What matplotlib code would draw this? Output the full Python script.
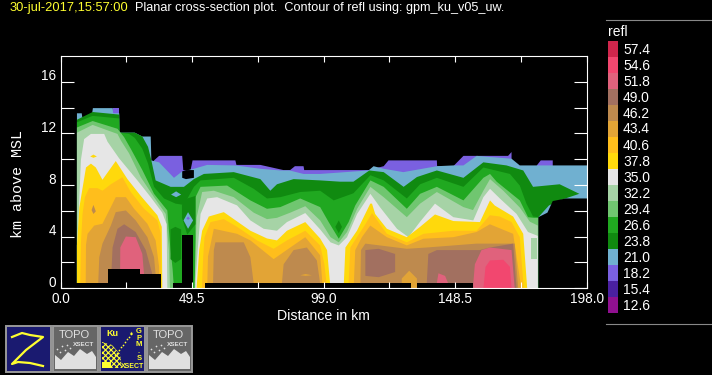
import matplotlib
matplotlib.use('Agg')
import matplotlib.pyplot as plt
from matplotlib.patches import Rectangle, Polygon
from matplotlib.colors import ListedColormap
from matplotlib.transforms import ScaledTranslation
import numpy as np

W, H = 712, 375
title_time = "30-jul-2017,15:57:00"
title_main = "Planar cross-section plot.  Contour of refl using: gpm_ku_v05_uw."
legend_values = ["57.4","54.6","51.8","49.0","46.2","43.4","40.6","37.8","35.0","32.2","29.4","26.6","23.8","21.0","18.2","15.4","12.6"]
legend_colors = ["#D0264C","#F2476F","#E0627C","#A27060","#BE8A4E","#E2A436","#FFBE1C","#FFD90C","#E6E6E6","#A6D3A6","#70C670","#20A820","#108A10","#70B0D0","#7A60E0","#4A20A0","#901090"]
COL = dict(zip(legend_values, legend_colors))
x_major = [0.0, 49.5, 99.0, 148.5, 198.0]
x_minor = [24.75, 74.25, 123.75, 173.25]
y_ticks = [0, 2, 4, 6, 8, 10, 12, 14, 16]
y_labels = [0, 4, 8, 12, 16]

# Contour tops (distance km, height km) for each reflectivity band, painted low to high
top_182 = [([19.6,21.9],[14.0,14.0]),
 ([35,36.9,45.6,46,48.75,49.5,65.6,66,75,83.7,86.2,88,91.25,91.5,97.6,115.7,121.4,123.2,141.4,141.5,147.6,151.4,168.2,169.5],
  [9.95,10.3,10.3,9.2,9.2,9.95,9.95,9.6,9.6,9.2,9.2,9.5,9.5,9.2,9.2,9.2,9.5,9.95,9.95,9.5,9.5,10.3,10.3,10.6]),
 ([179,180.5,185],[9.56,9.95,9.95])]
top_210 = [([6,7.8,8,11.5,12,19.5,19.6,21.9,22,27.75,30.6,33.75,34,36.9,42.5,45.6,50,55,65.6,75,82.5,86,91.25,97.5,115.7,117.6,121.4,128.8,141.4,147.6,151.4,156.4,169.5,172.6,198],
  [13.6,13.6,13.3,13.3,14,14,13.6,13.6,12.1,12.1,11.8,11.8,9.95,9.8,8.6,9.1,9.3,9.6,9.56,9.3,9.17,9.17,8.9,8.9,9.17,9.5,9.3,9.04,9.5,9.56,9.56,10.3,10.08,9.56,9.56])]
top_238 = [([6,11.9,21.9,22,27.75,30.6,32.75,34,35.6,41.25,46.25,50,53.75,65,75,78.75,81.25,87.5,97.5,105,110,116,121.4,128.9,133.9,141.4,151.4,158.9,167.6,173.9,177.6,187.6,195],
  [13.1,13.7,13.5,12.1,12.1,11.8,11.0,9.95,8.4,7.9,7.9,8.5,8.9,9.04,8.5,7.6,8.1,8.5,8.4,8.3,8.3,9.17,9.04,7.9,8.66,9.17,8.6,9.8,9.56,9.17,7.9,8.1,7.36])]
under_wedge_x = [179.6,183.6,187.6,195,198]
under_wedge_z = [5.55,6.46,6.85,7.36,7.36]
top_266 = [([6,11.9,21.9,22,25.6,27.75,30.6,32.75,35,38.75,43.1,46.25,50,52.5,65,72.5,77.5,82.5,90,97.5,102.6,110,116.4,121.4,130.1,135.1,141.4,151.4,158.9,168.9,172.6,175.1,177.6,179.6],
  [12.9,13.4,13.2,12.1,12.0,11.7,10.85,9.7,7.9,7.0,6.6,6.5,7.9,8.4,8.6,7.75,7.0,7.1,7.5,7.6,6.85,7.4,8.8,8.4,7.0,8.1,8.6,7.9,9.4,8.9,8.0,6.6,5.6,5.55])]
top_294 = [([6,11.9,21.25,23.75,26.25,30.6,35,40,41,42,42.5],[12.5,13.0,12.4,11.75,10.85,9.2,7.36,6.07,3.5,1.5,0]),
 ([50.6,52.5,62.5,71.25,77.5,82.5,90,97.5,100.7,104.5,108.2,110.7,116.4,121.4,130.1,135.1,141.4,151.4,158.9,161.4,163.9,172.6,175.7,178,179.6],
  [7.1,7.9,8.0,6.85,6.2,6.33,7.0,6.33,5.17,3.88,5.17,6.46,8.4,7.9,6.2,7.36,7.9,6.85,8.6,8.9,8.3,6.85,5.55,5.5,5.5])]
top_322 = [([6,11.9,21.25,22.5,25.6,30,35,39.4,40.6,41],[12.1,12.7,12.0,11.5,10.5,8.65,7.1,5.8,3,0]),
 ([50.3,51,53.1,57.5,65,72.5,77.5,81.25,86.25,91.9,97.5,101.4,104.5,107.6,111.4,116.4,121.4,130.1,135.1,141.4,151.4,155,158.9,161.4,166.4,172.6,176.4,179.4],
  [0.5,5.5,7.5,7.6,7.1,5.9,5.4,5.5,5.9,6.4,5.3,4.0,3.6,4.4,6.2,7.9,7.1,5.55,6.6,7.5,6.33,6.1,7.6,8.5,7.6,6.3,5.2,4.9])]
top_350 = [([6,6.5,7.5,8.7,11.25,16.25,17.5,21.9,28.75,33.75,38.1,39.75,40],[3.4,5,10,11.6,12,12,11.4,10.1,8.4,7.1,5.9,5,0]),
 ([50.6,51.5,52.5,55,58.75,66.25,71.25,76.25,81.25,85,91.9,97.5,101.4,104.5,107.6,111.4,116.4,120.1,126.4,130.7,135.1,140.7,147.6,155.1,158.9,161.4,165.1,171.4,175.7,179.4],
  [0.5,3.2,5.8,7.0,7.1,6.46,5.3,4.65,4.5,5.17,5.87,4.6,3.6,3.36,4.0,5.8,7.36,6.3,4.65,4.0,5.2,6.6,5.55,5.3,7.1,7.75,7.0,5.8,4.4,4.1])]
top_378 = [([6,6.9,9.4,11.25,13.1,15.6,20.6,25,30,36.25,37.9,38.1],[3.36,6.3,9.4,9.7,9.4,8.45,9.9,8.5,7.2,5.7,4.8,0.4]),
 ([51,52,53.1,55.6,61.25,65,71.25,77.5,81.25,85,91.9,97.5,100.1,101.4],[0,3,4.5,5.6,5.94,5.4,4.5,3.9,3.75,4.5,5.17,3.9,3,0]),
 ([106.4,107,108.85,111.35,116.35,117,118.2,122.6,130.1,135.1,140.7,147.6,157.6,161.4,163.2,170.1,173.9,175.4],
  [0.4,3.2,3.75,4.5,6.6,6.6,5.8,4.65,4.0,4.8,5.76,5.25,5.17,6.85,6.45,5.6,4.26,0])]
top_406 = [([7.25,7.5,8.1,9,10.6,13.75,15.6,18.75,23.1,26.25,31.25,36.25,37.5,37.6],[0.4,3.5,5.8,7.1,7.8,7.8,7.6,8.1,8.65,7.5,6.2,5.3,4.3,0.4]),
 ([53,53.5,54,56.25,61.25,66.25,73.75,80,85,91.9,97.5,99.1,99.9],[0,2.5,4,5.17,5.4,4.8,3.75,3.1,3.75,4.5,3.36,1.9,0.4]),
 ([108.2,108.85,111.35,114.5,117,122.6,130.1,136.35,147.6,156.35,161.35,165.1,169.5,172.6,174.1],
  [0.4,3.2,4.0,5.0,5.87,4.26,3.6,4.26,4.5,4.5,5.7,5.6,5.17,4.0,0])]
top_434 = [([9.3,9.4,10,12.5,15.6,18.75,20.6,24.4,27.5,32.5,35.6,36.9,37],[0.4,3.4,4.26,4.9,5.04,6.33,7.1,7.1,6.2,5.04,3.75,1.7,0.4]),
 ([55,55.3,57.5,66.25,71.25,80,86.25,91.9,97.5,98.35],[0,2.5,4.65,4.26,3.75,2.3,3.2,4,2.6,0.4]),
 ([110.1,110.7,113.2,116.35,122.6,130.1,136.35,147.6,156.35,161.35,170.1,173.2],[0,3,4,4.9,4,3.36,3.88,4,4.4,5,4.26,0])]
top_462 = [([14,14.4,15.6,18.75,20.6,24.4,28.1,32.5,35,35.6],[0.4,2.45,3.5,4.9,5.94,6.07,5.3,4,2.45,1.1]),
 ([57.2,57.5,58.1,68.75,71.25,72.5],[0.4,3,3.6,3.6,2.45,0.4]),
 ([83.1,83.75,87.5,92.5,96.25,97.5],[0.4,1.9,3,3.2,2.2,0.4]),
 ([112.6,112.85,114.5,130.1,137.6,156.35,170.7,172],[0,3,3.5,3.1,3.2,3.5,3.5,0])]
top_490 = [([19,19.4,21.25,23.75,28.1,31.9,34.4],[1.4,3.2,4.65,5,4.4,3,1.1]),
 ([137.6,138.2,141.4,157.6,161.4,170.1,171.4],[0.4,2.7,3,3,3.2,3.5,0])]
top_518 = [([22.25,22.3,24.4,28.1,30.6,31.25],[1.4,3.2,4.05,4,2.7,1.1]),
 ([141.35,142,144.5,145.7],[0.4,1.2,1.0,0.4]),
 ([155.1,155.7,158.2,161.4,169.5,170.7],[0.4,1.9,3,3.2,3,0])]
top_546 = [([158.9,159.7,161.4,166.4,168.9,169.5],[0,1.7,2.2,2.25,1.7,0])]

# Closed pockets: band, distance, lower edge, upper edge
pockets = [
 ("46.2",[11.5,12.2,13.1],[6.1,5.8,6.0],[6.1,6.5,6.0]),
 ("37.8",[11,12.2,13.5],[10.25,10.15,10.25],[10.25,10.4,10.25]),
 ("23.8",[41.2,43,45.2],[2.3,2.0,2.3],[4.6,4.8,4.6]),
 ("23.8",[45.5,47.5,50.6],[5.5,4.2,5.0],[6.5,7.0,7.2]),
 ("21.0",[41.4,43.3,45.2],[7.3,7.1,7.3],[7.3,7.55,7.3]),
 ("21.0",[46.1,47.8,49.7],[5.3,4.65,5.3],[5.3,5.94,5.3]),
 ("18.2",[47.2,47.8,48.5],[5.45,5.35,5.45],[5.45,5.6,5.45]),
 ("23.8",[103.2,104.5,105.7],[4.8,4.3,4.8],[4.8,5.3,4.8]),
 ("49.0",[114.5,119.5,125.7],[1.0,0.9,1.3],[3,3.1,2.7]),
 ("43.4",[128.2,131,133.9],[0,0,0],[0.8,1.4,0.8]),
 ("43.4",[90,92,94.4],[1.05,1.0,1.05],[1.05,1.15,1.05]),
 ("32.2",[177,177.2,179.4],[2.3,2.3,2.3],[3.9,3.9,3.9]),
]
# No-data regions
ground_x = [6,18,30,37.9,42.5,49.6,54.4,131.7,134,155,198]
ground_z = [0.44,1.5,1.1,0,0.44,0,0.44,0,0.44,0,0]
gap_x = [45.6,49.8]; gap_z = [4.1,4.1]
hole_x = [45.6,47,50]; hole_lo = [8.6,8.5,8.6]; hole_hi = [9.1,9.2,9.2]
outer_x = [179.6,183,185,190,198]; outer_z = [5.55,5.9,6.8,7.0,7.0]

plt.rcParams['font.family'] = ['Liberation Sans','DejaVu Sans']
plt.rcParams['hatch.linewidth'] = 0.8
fig = plt.figure(figsize=(W/100,H/100), dpi=100, facecolor='black')
L,R,T,B = 60.5,586.8,56,288.3
ax = fig.add_axes([L/W,1-B/H,(R-L)/W,(B-T)/H], facecolor='black')
ax.set_xlim(0,198); ax.set_ylim(0,18)

def paint(band, segs):
    for xs, zs in segs:
        ax.fill_between(xs, 0, zs, color=COL[band], lw=0, antialiased=False)

paint("18.2", top_182)
paint("21.0", top_210)
paint("23.8", top_238)
ax.fill_between(under_wedge_x, 0, under_wedge_z, color=COL["21.0"], lw=0, antialiased=False)
for band, segs in [("26.6",top_266),("29.4",top_294),("32.2",top_322),("35.0",top_350),("37.8",top_378),("40.6",top_406),("43.4",top_434),("46.2",top_462),("49.0",top_490),("51.8",top_518),("54.6",top_546)]:
    paint(band, segs)
for band, xs, lo, hi in pockets:
    ax.fill_between(xs, lo, hi, color=COL[band], lw=0, antialiased=False)
ax.fill_between(ground_x, 0, ground_z, step='post', color='black', lw=0, antialiased=False, zorder=2)
ax.fill_between(gap_x, 0, gap_z, color='black', lw=0, antialiased=False, zorder=2)
ax.fill_between(hole_x, hole_lo, hole_hi, color='black', lw=0, antialiased=False, zorder=2)
ax.fill_between(outer_x, 0, outer_z, color='black', lw=0, antialiased=False, zorder=2)

ax.set_axisbelow(False)
for s in ax.spines.values():
    s.set_color('white'); s.set_linewidth(0.8); s.set_zorder(5)
ax.set_xticks(x_major); ax.set_xticklabels(["%.1f"%v for v in x_major])
ax.set_xticks(x_minor, minor=True)
ax.set_yticks(y_ticks); ax.set_yticklabels([str(v) if v in y_labels else "" for v in y_ticks])
ax.tick_params(axis='x', which='both', direction='in', top=True, length=4.4, width=0.8, color='white', labelcolor='white', labelsize=9.8, pad=3)
ax.tick_params(axis='y', direction='in', right=True, length=9.2, width=0.8, color='white', labelcolor='white', labelsize=9.8, pad=3)
shift = ScaledTranslation(0, 5/72, fig.dpi_scale_trans)
for lbl in ax.get_yticklabels():
    lbl.set_transform(lbl.get_transform() + shift)
ax.set_xlabel("Distance in km", color='white', fontsize=10.2, labelpad=1.5)
fig.text(18/W,1-184/H,"km above MSL",color='white',family=['Liberation Mono'],fontsize=10.8,rotation=90,ha='center',va='center')

fig.text(10/W,1-8/H,title_time,color='#FFFF30',fontsize=9.3,ha='left',va='center')
fig.text(135/W,1-8/H,title_main,color='white',fontsize=9.05,ha='left',va='center')

# Legend column
cb = fig.add_axes([608/W,1-313/H,10/W,272/H]); cb.axis('off')
cb.imshow(np.arange(len(legend_colors)).reshape(-1,1),cmap=ListedColormap(legend_colors),aspect='auto',interpolation='nearest')
for i,v in enumerate(legend_values):
    fig.text(623/W,1-(49.5+16*i)/H,v,color='white',fontsize=10,ha='left',va='center')
fig.text(608/W,1-32/H,"refl",color='white',fontsize=10,ha='left',va='center')

# Chrome overlay in pixels
ov = fig.add_axes([0,0,1,1],facecolor='none'); ov.set_xlim(0,W); ov.set_ylim(H,0); ov.axis('off')
for yy in (19.5,324):
    ov.plot([606,712],[yy,yy],color='#888888',lw=0.8)
def button(x0,fc):
    ov.add_patch(Rectangle((x0+0.5,325.5),45,46,fc=fc,ec='#999999',lw=1.4))
button(5,'#1A1A70'); button(52,'#666666'); button(99,'#1A1A70'); button(146,'#666666')
ov.plot([12,22,30,43,26,12,18,30,43],[337,333,335,337,350,364,362,363,366],color='#FFFF30',lw=1.6)
for x0 in (52,146):
    ov.text(x0+22,334.5,"TOPO",color='#E0E0E0',fontsize=8,ha='center',va='center')
    ov.text(x0+32,345,"XSECT",color='#E0E0E0',fontsize=4.6,ha='center',va='center',weight='bold',zorder=5)
    ov.add_patch(Polygon([(x0+3,369),(x0+3,355),(x0+9,360),(x0+16,352),(x0+22,356),(x0+28,349),(x0+35,354),(x0+40,351),(x0+44,357),(x0+44,369)],fc='#E0E0E0',ec='none'))
    ov.scatter(np.linspace(x0+5,x0+18,6),[349,352,346,350,345,348],s=1.5,color='#E0E0E0',lw=0)
ov.text(112,333,"Ku",color='#FFFF30',fontsize=6.5,ha='center',va='center',weight='bold')
ov.text(139,345,"G\nP\nM\n.\nS",color='#FFFF30',fontsize=5.5,ha='center',va='center',weight='bold',linespacing=0.95)
ov.text(133,367,"XSECT",color='#FFFF30',fontsize=5,ha='center',va='center',weight='bold')
ov.add_patch(Polygon([(102,368),(102,342),(112,345),(120,354),(122,368)],fc='#1A1A70',ec='#FFFF30',lw=0,hatch='xxxxxx'))
ov.add_patch(Rectangle((102,362),9,6,fc='#FFFF30',ec='none'))
ov.scatter(np.linspace(113,131,10),np.linspace(358,334,10),s=1.5,color='#FFFF30',lw=0)
ov.scatter([131],[333],s=8,marker='*',color='#FFFF30',lw=0)
fig.savefig('out.png',dpi=100,facecolor='black')
